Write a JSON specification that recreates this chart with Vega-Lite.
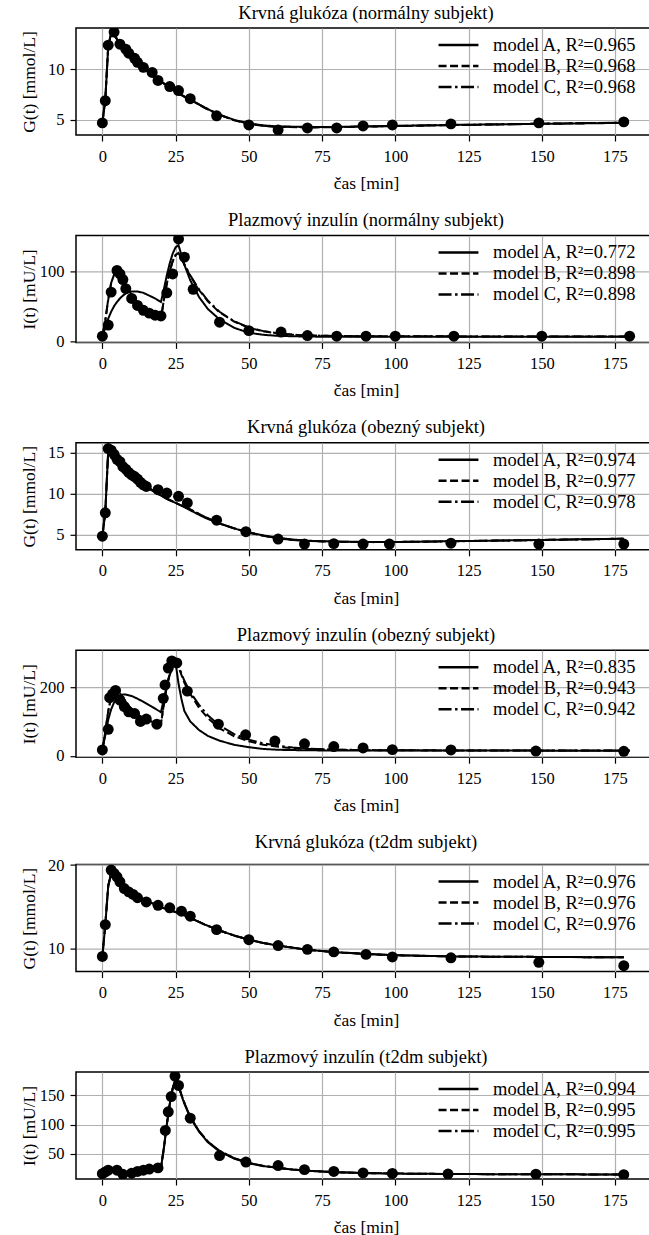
{
"$schema": "https://vega.github.io/schema/vega-lite/v6.json",
"background": "white",
"padding": {"left": 19, "top": 2, "right": 0, "bottom": 0},
"config": {
 "font": "Liberation Serif, DejaVu Serif, serif",
 "view": {"stroke": "black", "strokeWidth": 1.5},
 "axis": {"labelFont": "Liberation Serif, DejaVu Serif, serif", "labelFontSize": 16.5, "labelColor": "black", "titleFont": "Liberation Serif, DejaVu Serif, serif", "titleFontSize": 17.5, "titleFontWeight": "normal", "titleColor": "black", "tickColor": "black", "tickSize": 6, "tickWidth": 1.2, "domain": false, "gridColor": "#b0b0b0", "gridWidth": 1.2, "labelPadding": 6, "labelFlush": false},
 "axisX": {"titlePadding": 10, "labelPadding": 7},
 "axisY": {"minExtent": 27, "maxExtent": 27, "titlePadding": 11},
 "title": {"font": "Liberation Serif, DejaVu Serif, serif", "fontSize": 18.5, "fontWeight": "normal", "color": "black", "offset": 6},
 "legend": {"title": null, "orient": "none", "legendX": 371.5, "legendY": 6, "symbolType": "M-2.1,0L2.1,0", "symbolSize": 361, "symbolStrokeWidth": 2.5, "symbolStrokeColor": "black", "symbolFillColor": "transparent", "labelFont": "Liberation Serif, DejaVu Serif, serif", "labelFontSize": 18.5, "labelColor": "black", "rowPadding": 0, "labelOffset": 23.5, "padding": 0},
 "concat": {"spacing": 16.4}
},
"datasets": {
 "d1": [{"t":0,"v":4.7},{"t":1,"v":6.9},{"t":2,"v":12.4},{"t":4,"v":13.7},{"t":6,"v":12.5},{"t":8,"v":12.0},{"t":9,"v":11.6},{"t":11,"v":11.1},{"t":12,"v":10.7},{"t":14,"v":10.2},{"t":17,"v":9.7},{"t":19,"v":8.9},{"t":23,"v":8.3},{"t":26,"v":7.9},{"t":30,"v":7.1},{"t":39,"v":5.4},{"t":50,"v":4.5},{"t":60,"v":4.0},{"t":70,"v":4.2},{"t":80,"v":4.2},{"t":89,"v":4.4},{"t":99,"v":4.5},{"t":119,"v":4.6},{"t":149,"v":4.7},{"t":178,"v":4.8}],
 "m1": [
  {"m":"A","t":0,"v":4.7},{"m":"A","t":1,"v":7.0},{"m":"A","t":2,"v":12.2},{"m":"A","t":3,"v":13.6},{"m":"A","t":4,"v":13.5},{"m":"A","t":5,"v":13.0},{"m":"A","t":6,"v":12.6},{"m":"A","t":8,"v":12.0},{"m":"A","t":10,"v":11.4},{"m":"A","t":12,"v":10.8},{"m":"A","t":14,"v":10.2},{"m":"A","t":16,"v":9.7},{"m":"A","t":18,"v":9.2},{"m":"A","t":20,"v":8.8},{"m":"A","t":22,"v":8.4},{"m":"A","t":24,"v":8.0},{"m":"A","t":26,"v":7.7},{"m":"A","t":28,"v":7.3},{"m":"A","t":30,"v":7.0},{"m":"A","t":35,"v":6.2},{"m":"A","t":40,"v":5.5},{"m":"A","t":45,"v":5.0},{"m":"A","t":50,"v":4.65},{"m":"A","t":55,"v":4.45},{"m":"A","t":60,"v":4.35},{"m":"A","t":70,"v":4.3},{"m":"A","t":80,"v":4.3},{"m":"A","t":90,"v":4.35},{"m":"A","t":100,"v":4.4},{"m":"A","t":120,"v":4.5},{"m":"A","t":150,"v":4.6},{"m":"A","t":178,"v":4.7},
  {"m":"B","t":0,"v":4.7},{"m":"B","t":1,"v":7.0},{"m":"B","t":2,"v":12.3},{"m":"B","t":3,"v":13.6},{"m":"B","t":4,"v":13.4},{"m":"B","t":5,"v":13.0},{"m":"B","t":6,"v":12.6},{"m":"B","t":8,"v":12.0},{"m":"B","t":10,"v":11.4},{"m":"B","t":12,"v":10.8},{"m":"B","t":14,"v":10.2},{"m":"B","t":16,"v":9.7},{"m":"B","t":18,"v":9.2},{"m":"B","t":20,"v":8.8},{"m":"B","t":22,"v":8.4},{"m":"B","t":24,"v":8.0},{"m":"B","t":26,"v":7.6},{"m":"B","t":28,"v":7.3},{"m":"B","t":30,"v":7.0},{"m":"B","t":35,"v":6.2},{"m":"B","t":40,"v":5.5},{"m":"B","t":45,"v":4.95},{"m":"B","t":50,"v":4.6},{"m":"B","t":55,"v":4.4},{"m":"B","t":60,"v":4.3},{"m":"B","t":70,"v":4.25},{"m":"B","t":80,"v":4.28},{"m":"B","t":90,"v":4.33},{"m":"B","t":100,"v":4.38},{"m":"B","t":120,"v":4.48},{"m":"B","t":150,"v":4.62},{"m":"B","t":178,"v":4.72},
  {"m":"C","t":0,"v":4.7},{"m":"C","t":1,"v":7.0},{"m":"C","t":2,"v":12.3},{"m":"C","t":3,"v":13.6},{"m":"C","t":4,"v":13.4},{"m":"C","t":5,"v":13.0},{"m":"C","t":6,"v":12.6},{"m":"C","t":8,"v":12.0},{"m":"C","t":10,"v":11.4},{"m":"C","t":12,"v":10.8},{"m":"C","t":14,"v":10.2},{"m":"C","t":16,"v":9.7},{"m":"C","t":18,"v":9.2},{"m":"C","t":20,"v":8.8},{"m":"C","t":22,"v":8.4},{"m":"C","t":24,"v":8.0},{"m":"C","t":26,"v":7.6},{"m":"C","t":28,"v":7.3},{"m":"C","t":30,"v":7.0},{"m":"C","t":35,"v":6.2},{"m":"C","t":40,"v":5.5},{"m":"C","t":45,"v":4.97},{"m":"C","t":50,"v":4.62},{"m":"C","t":55,"v":4.42},{"m":"C","t":60,"v":4.32},{"m":"C","t":70,"v":4.27},{"m":"C","t":80,"v":4.29},{"m":"C","t":90,"v":4.34},{"m":"C","t":100,"v":4.4},{"m":"C","t":120,"v":4.49},{"m":"C","t":150,"v":4.62},{"m":"C","t":178,"v":4.72}
 ],
 "d2": [{"t":0,"v":8},{"t":2,"v":24},{"t":3,"v":71},{"t":5,"v":102},{"t":6,"v":97},{"t":7,"v":89},{"t":8,"v":76},{"t":10,"v":62},{"t":12,"v":52},{"t":14,"v":45},{"t":16,"v":41},{"t":18,"v":38},{"t":20,"v":37},{"t":22,"v":70},{"t":24,"v":97},{"t":26,"v":147},{"t":28,"v":121},{"t":31,"v":75},{"t":40,"v":28},{"t":50,"v":16},{"t":61,"v":14},{"t":70,"v":9},{"t":80,"v":8},{"t":90,"v":8},{"t":100,"v":8},{"t":120,"v":8},{"t":150,"v":8},{"t":180,"v":8}],
 "m2": [
  {"m":"A","t":0,"v":8},{"m":"A","t":1,"v":20},{"m":"A","t":2,"v":33},{"m":"A","t":3,"v":43},{"m":"A","t":4,"v":51},{"m":"A","t":5,"v":57},{"m":"A","t":6,"v":62},{"m":"A","t":7,"v":66},{"m":"A","t":8,"v":69},{"m":"A","t":9,"v":71},{"m":"A","t":10,"v":72},{"m":"A","t":12,"v":72},{"m":"A","t":14,"v":70},{"m":"A","t":16,"v":66},{"m":"A","t":18,"v":62},{"m":"A","t":20,"v":57},{"m":"A","t":21,"v":75},{"m":"A","t":22,"v":95},{"m":"A","t":23,"v":112},{"m":"A","t":24,"v":126},{"m":"A","t":25,"v":135},{"m":"A","t":26,"v":138},{"m":"A","t":27,"v":124},{"m":"A","t":28,"v":110},{"m":"A","t":30,"v":88},{"m":"A","t":33,"v":64},{"m":"A","t":36,"v":47},{"m":"A","t":40,"v":32},{"m":"A","t":45,"v":20},{"m":"A","t":50,"v":13},{"m":"A","t":55,"v":10},{"m":"A","t":60,"v":8.5},{"m":"A","t":70,"v":7.5},{"m":"A","t":80,"v":7.3},{"m":"A","t":100,"v":7.2},{"m":"A","t":120,"v":7.2},{"m":"A","t":150,"v":7.2},{"m":"A","t":180,"v":7.2},
  {"m":"B","t":0,"v":8},{"m":"B","t":1,"v":30},{"m":"B","t":2,"v":60},{"m":"B","t":3,"v":84},{"m":"B","t":4,"v":96},{"m":"B","t":5,"v":99},{"m":"B","t":6,"v":96},{"m":"B","t":7,"v":89},{"m":"B","t":8,"v":81},{"m":"B","t":10,"v":67},{"m":"B","t":12,"v":56},{"m":"B","t":14,"v":48},{"m":"B","t":16,"v":42},{"m":"B","t":18,"v":37},{"m":"B","t":20,"v":33},{"m":"B","t":21,"v":60},{"m":"B","t":22,"v":83},{"m":"B","t":23,"v":101},{"m":"B","t":24,"v":115},{"m":"B","t":25,"v":124},{"m":"B","t":26,"v":127},{"m":"B","t":27,"v":119},{"m":"B","t":28,"v":110},{"m":"B","t":30,"v":94},{"m":"B","t":33,"v":74},{"m":"B","t":36,"v":58},{"m":"B","t":40,"v":42},{"m":"B","t":45,"v":29},{"m":"B","t":50,"v":20},{"m":"B","t":55,"v":15},{"m":"B","t":60,"v":12},{"m":"B","t":65,"v":10.2},{"m":"B","t":70,"v":9.2},{"m":"B","t":80,"v":8.3},{"m":"B","t":90,"v":8},{"m":"B","t":100,"v":7.9},{"m":"B","t":120,"v":7.8},{"m":"B","t":150,"v":7.8},{"m":"B","t":180,"v":7.8},
  {"m":"C","t":0,"v":8},{"m":"C","t":1,"v":31},{"m":"C","t":2,"v":61},{"m":"C","t":3,"v":84},{"m":"C","t":4,"v":96},{"m":"C","t":5,"v":99},{"m":"C","t":6,"v":96},{"m":"C","t":7,"v":89},{"m":"C","t":8,"v":81},{"m":"C","t":10,"v":67},{"m":"C","t":12,"v":56},{"m":"C","t":14,"v":48},{"m":"C","t":16,"v":42},{"m":"C","t":18,"v":37},{"m":"C","t":20,"v":33},{"m":"C","t":21,"v":60},{"m":"C","t":22,"v":83},{"m":"C","t":23,"v":101},{"m":"C","t":24,"v":115},{"m":"C","t":25,"v":124},{"m":"C","t":26,"v":127},{"m":"C","t":27,"v":120},{"m":"C","t":28,"v":111},{"m":"C","t":30,"v":95},{"m":"C","t":33,"v":75},{"m":"C","t":36,"v":59},{"m":"C","t":40,"v":43},{"m":"C","t":45,"v":29.5},{"m":"C","t":50,"v":20.5},{"m":"C","t":55,"v":15.3},{"m":"C","t":60,"v":12.2},{"m":"C","t":65,"v":10.3},{"m":"C","t":70,"v":9.3},{"m":"C","t":80,"v":8.3},{"m":"C","t":90,"v":8},{"m":"C","t":100,"v":7.9},{"m":"C","t":120,"v":7.8},{"m":"C","t":150,"v":7.8},{"m":"C","t":180,"v":7.8}
 ],
 "d3": [{"t":0,"v":4.85},{"t":1,"v":7.7},{"t":2,"v":15.5},{"t":3,"v":15.3},{"t":4,"v":14.8},{"t":5,"v":14.2},{"t":6,"v":13.9},{"t":7,"v":13.3},{"t":8,"v":13.0},{"t":9,"v":12.6},{"t":10,"v":12.3},{"t":11,"v":12.1},{"t":12,"v":11.8},{"t":13,"v":11.4},{"t":14,"v":11.1},{"t":15,"v":10.9},{"t":19,"v":10.5},{"t":22,"v":10.1},{"t":26,"v":9.7},{"t":29,"v":8.9},{"t":39,"v":6.8},{"t":49,"v":5.4},{"t":60,"v":4.5},{"t":69,"v":3.9},{"t":79,"v":3.95},{"t":89,"v":3.9},{"t":98,"v":3.9},{"t":119,"v":4.0},{"t":149,"v":3.9},{"t":178,"v":3.9}],
 "m3": [
  {"m":"A","t":0,"v":4.85},{"m":"A","t":1,"v":7.8},{"m":"A","t":2,"v":15.2},{"m":"A","t":3,"v":15.0},{"m":"A","t":4,"v":14.6},{"m":"A","t":6,"v":13.8},{"m":"A","t":8,"v":13.0},{"m":"A","t":10,"v":12.3},{"m":"A","t":12,"v":11.7},{"m":"A","t":14,"v":11.1},{"m":"A","t":16,"v":10.6},{"m":"A","t":18,"v":10.2},{"m":"A","t":20,"v":9.8},{"m":"A","t":22,"v":9.4},{"m":"A","t":25,"v":8.9},{"m":"A","t":28,"v":8.4},{"m":"A","t":30,"v":8.0},{"m":"A","t":35,"v":7.1},{"m":"A","t":40,"v":6.4},{"m":"A","t":45,"v":5.8},{"m":"A","t":50,"v":5.3},{"m":"A","t":55,"v":4.95},{"m":"A","t":60,"v":4.65},{"m":"A","t":65,"v":4.45},{"m":"A","t":70,"v":4.3},{"m":"A","t":80,"v":4.2},{"m":"A","t":90,"v":4.15},{"m":"A","t":100,"v":4.15},{"m":"A","t":120,"v":4.25},{"m":"A","t":150,"v":4.4},{"m":"A","t":178,"v":4.55},
  {"m":"B","t":0,"v":4.85},{"m":"B","t":1,"v":7.8},{"m":"B","t":2,"v":15.3},{"m":"B","t":3,"v":15.1},{"m":"B","t":4,"v":14.6},{"m":"B","t":6,"v":13.8},{"m":"B","t":8,"v":13.0},{"m":"B","t":10,"v":12.3},{"m":"B","t":12,"v":11.7},{"m":"B","t":14,"v":11.2},{"m":"B","t":16,"v":10.7},{"m":"B","t":18,"v":10.2},{"m":"B","t":20,"v":9.8},{"m":"B","t":22,"v":9.4},{"m":"B","t":25,"v":8.9},{"m":"B","t":28,"v":8.4},{"m":"B","t":30,"v":8.1},{"m":"B","t":35,"v":7.2},{"m":"B","t":40,"v":6.4},{"m":"B","t":45,"v":5.8},{"m":"B","t":50,"v":5.3},{"m":"B","t":55,"v":4.9},{"m":"B","t":60,"v":4.6},{"m":"B","t":65,"v":4.4},{"m":"B","t":70,"v":4.28},{"m":"B","t":80,"v":4.18},{"m":"B","t":90,"v":4.14},{"m":"B","t":100,"v":4.15},{"m":"B","t":120,"v":4.24},{"m":"B","t":150,"v":4.4},{"m":"B","t":178,"v":4.55},
  {"m":"C","t":0,"v":4.85},{"m":"C","t":1,"v":7.8},{"m":"C","t":2,"v":15.3},{"m":"C","t":3,"v":15.1},{"m":"C","t":4,"v":14.6},{"m":"C","t":6,"v":13.8},{"m":"C","t":8,"v":13.0},{"m":"C","t":10,"v":12.3},{"m":"C","t":12,"v":11.7},{"m":"C","t":14,"v":11.2},{"m":"C","t":16,"v":10.7},{"m":"C","t":18,"v":10.2},{"m":"C","t":20,"v":9.8},{"m":"C","t":22,"v":9.4},{"m":"C","t":25,"v":8.9},{"m":"C","t":28,"v":8.4},{"m":"C","t":30,"v":8.1},{"m":"C","t":35,"v":7.2},{"m":"C","t":40,"v":6.4},{"m":"C","t":45,"v":5.8},{"m":"C","t":50,"v":5.3},{"m":"C","t":55,"v":4.9},{"m":"C","t":60,"v":4.6},{"m":"C","t":65,"v":4.4},{"m":"C","t":70,"v":4.27},{"m":"C","t":80,"v":4.17},{"m":"C","t":90,"v":4.13},{"m":"C","t":100,"v":4.14},{"m":"C","t":120,"v":4.23},{"m":"C","t":150,"v":4.39},{"m":"C","t":178,"v":4.54}
 ],
 "d4": [{"t":0,"v":17},{"t":2,"v":77},{"t":2.5,"v":169},{"t":3.5,"v":180},{"t":4.5,"v":190},{"t":6,"v":162},{"t":7.5,"v":143},{"t":9,"v":128},{"t":11,"v":123},{"t":13,"v":100},{"t":15,"v":107},{"t":18.6,"v":92},{"t":20.8,"v":167},{"t":21.4,"v":206},{"t":22.5,"v":255},{"t":23.7,"v":276},{"t":25.4,"v":270},{"t":29,"v":188},{"t":39.6,"v":92},{"t":48.9,"v":61},{"t":58.9,"v":43},{"t":69,"v":35},{"t":79,"v":27},{"t":89,"v":23},{"t":99,"v":18},{"t":119,"v":17},{"t":148,"v":14},{"t":178,"v":13}],
 "m4": [
  {"m":"A","t":0,"v":17},{"m":"A","t":1,"v":60},{"m":"A","t":2,"v":105},{"m":"A","t":3,"v":135},{"m":"A","t":4,"v":155},{"m":"A","t":5,"v":168},{"m":"A","t":6,"v":175},{"m":"A","t":7,"v":178},{"m":"A","t":8,"v":178},{"m":"A","t":10,"v":174},{"m":"A","t":12,"v":166},{"m":"A","t":14,"v":157},{"m":"A","t":16,"v":147},{"m":"A","t":18,"v":137},{"m":"A","t":20,"v":127},{"m":"A","t":21,"v":165},{"m":"A","t":22,"v":205},{"m":"A","t":23,"v":235},{"m":"A","t":24,"v":258},{"m":"A","t":25,"v":270},{"m":"A","t":26,"v":210},{"m":"A","t":27,"v":165},{"m":"A","t":28,"v":130},{"m":"A","t":30,"v":100},{"m":"A","t":33,"v":75},{"m":"A","t":36,"v":58},{"m":"A","t":40,"v":44},{"m":"A","t":45,"v":32},{"m":"A","t":50,"v":25},{"m":"A","t":55,"v":20},{"m":"A","t":60,"v":17.5},{"m":"A","t":70,"v":16},{"m":"A","t":80,"v":15.5},{"m":"A","t":100,"v":15.3},{"m":"A","t":120,"v":15.2},{"m":"A","t":150,"v":15.1},{"m":"A","t":180,"v":15},
  {"m":"B","t":0,"v":17},{"m":"B","t":1,"v":70},{"m":"B","t":2,"v":130},{"m":"B","t":3,"v":170},{"m":"B","t":4,"v":188},{"m":"B","t":5,"v":190},{"m":"B","t":6,"v":182},{"m":"B","t":7,"v":170},{"m":"B","t":8,"v":157},{"m":"B","t":10,"v":135},{"m":"B","t":12,"v":120},{"m":"B","t":14,"v":110},{"m":"B","t":16,"v":102},{"m":"B","t":18,"v":96},{"m":"B","t":20,"v":92},{"m":"B","t":21,"v":150},{"m":"B","t":22,"v":200},{"m":"B","t":23,"v":240},{"m":"B","t":24,"v":265},{"m":"B","t":25,"v":275},{"m":"B","t":26,"v":258},{"m":"B","t":27,"v":235},{"m":"B","t":28,"v":212},{"m":"B","t":30,"v":180},{"m":"B","t":33,"v":140},{"m":"B","t":36,"v":110},{"m":"B","t":40,"v":80},{"m":"B","t":45,"v":57},{"m":"B","t":50,"v":42},{"m":"B","t":55,"v":32},{"m":"B","t":60,"v":26},{"m":"B","t":65,"v":22},{"m":"B","t":70,"v":20},{"m":"B","t":80,"v":17.5},{"m":"B","t":90,"v":16.5},{"m":"B","t":100,"v":16},{"m":"B","t":120,"v":15.6},{"m":"B","t":150,"v":15.3},{"m":"B","t":180,"v":15.2},
  {"m":"C","t":0,"v":17},{"m":"C","t":1,"v":70},{"m":"C","t":2,"v":130},{"m":"C","t":3,"v":170},{"m":"C","t":4,"v":188},{"m":"C","t":5,"v":190},{"m":"C","t":6,"v":182},{"m":"C","t":7,"v":170},{"m":"C","t":8,"v":157},{"m":"C","t":10,"v":135},{"m":"C","t":12,"v":120},{"m":"C","t":14,"v":110},{"m":"C","t":16,"v":102},{"m":"C","t":18,"v":96},{"m":"C","t":20,"v":92},{"m":"C","t":21,"v":150},{"m":"C","t":22,"v":200},{"m":"C","t":23,"v":240},{"m":"C","t":24,"v":265},{"m":"C","t":25,"v":275},{"m":"C","t":26,"v":260},{"m":"C","t":27,"v":240},{"m":"C","t":28,"v":218},{"m":"C","t":30,"v":185},{"m":"C","t":33,"v":148},{"m":"C","t":36,"v":118},{"m":"C","t":40,"v":88},{"m":"C","t":45,"v":63},{"m":"C","t":50,"v":47},{"m":"C","t":55,"v":36},{"m":"C","t":60,"v":29},{"m":"C","t":65,"v":24},{"m":"C","t":70,"v":21},{"m":"C","t":80,"v":18},{"m":"C","t":90,"v":16.8},{"m":"C","t":100,"v":16.2},{"m":"C","t":120,"v":15.7},{"m":"C","t":150,"v":15.4},{"m":"C","t":180,"v":15.3}
 ],
 "d5": [{"t":0,"v":9.1},{"t":1,"v":12.9},{"t":3,"v":19.4},{"t":4,"v":19.0},{"t":5,"v":18.6},{"t":6,"v":18.0},{"t":7.5,"v":17.2},{"t":9,"v":16.8},{"t":10.5,"v":16.5},{"t":12,"v":16.1},{"t":15,"v":15.6},{"t":19,"v":15.2},{"t":23,"v":14.9},{"t":27,"v":14.5},{"t":30,"v":13.9},{"t":39,"v":12.3},{"t":50,"v":11.1},{"t":60,"v":10.4},{"t":70,"v":9.95},{"t":79,"v":9.65},{"t":90,"v":9.35},{"t":99,"v":9.05},{"t":119,"v":8.95},{"t":149,"v":8.4},{"t":178,"v":8.0}],
 "m5": [
  {"m":"A","t":0,"v":9.1},{"m":"A","t":1,"v":12.9},{"m":"A","t":2,"v":17.5},{"m":"A","t":3,"v":19.0},{"m":"A","t":4,"v":18.8},{"m":"A","t":5,"v":18.3},{"m":"A","t":6,"v":17.9},{"m":"A","t":8,"v":17.2},{"m":"A","t":10,"v":16.7},{"m":"A","t":12,"v":16.3},{"m":"A","t":14,"v":15.9},{"m":"A","t":16,"v":15.6},{"m":"A","t":18,"v":15.3},{"m":"A","t":20,"v":15.0},{"m":"A","t":22,"v":14.7},{"m":"A","t":25,"v":14.4},{"m":"A","t":28,"v":14.0},{"m":"A","t":30,"v":13.7},{"m":"A","t":35,"v":12.9},{"m":"A","t":40,"v":12.2},{"m":"A","t":45,"v":11.6},{"m":"A","t":50,"v":11.1},{"m":"A","t":55,"v":10.7},{"m":"A","t":60,"v":10.4},{"m":"A","t":70,"v":9.9},{"m":"A","t":80,"v":9.6},{"m":"A","t":90,"v":9.4},{"m":"A","t":100,"v":9.25},{"m":"A","t":120,"v":9.1},{"m":"A","t":150,"v":9.05},{"m":"A","t":178,"v":9.0},
  {"m":"B","t":0,"v":9.1},{"m":"B","t":1,"v":12.9},{"m":"B","t":2,"v":17.5},{"m":"B","t":3,"v":19.0},{"m":"B","t":4,"v":18.8},{"m":"B","t":5,"v":18.3},{"m":"B","t":6,"v":17.9},{"m":"B","t":8,"v":17.2},{"m":"B","t":10,"v":16.7},{"m":"B","t":12,"v":16.3},{"m":"B","t":14,"v":15.9},{"m":"B","t":16,"v":15.6},{"m":"B","t":18,"v":15.3},{"m":"B","t":20,"v":15.0},{"m":"B","t":22,"v":14.7},{"m":"B","t":25,"v":14.4},{"m":"B","t":28,"v":14.0},{"m":"B","t":30,"v":13.7},{"m":"B","t":35,"v":12.9},{"m":"B","t":40,"v":12.2},{"m":"B","t":45,"v":11.6},{"m":"B","t":50,"v":11.1},{"m":"B","t":55,"v":10.7},{"m":"B","t":60,"v":10.4},{"m":"B","t":70,"v":9.9},{"m":"B","t":80,"v":9.6},{"m":"B","t":90,"v":9.4},{"m":"B","t":100,"v":9.25},{"m":"B","t":120,"v":9.1},{"m":"B","t":150,"v":9.05},{"m":"B","t":178,"v":9.0},
  {"m":"C","t":0,"v":9.1},{"m":"C","t":1,"v":12.9},{"m":"C","t":2,"v":17.5},{"m":"C","t":3,"v":19.0},{"m":"C","t":4,"v":18.8},{"m":"C","t":5,"v":18.3},{"m":"C","t":6,"v":17.9},{"m":"C","t":8,"v":17.2},{"m":"C","t":10,"v":16.7},{"m":"C","t":12,"v":16.3},{"m":"C","t":14,"v":15.9},{"m":"C","t":16,"v":15.6},{"m":"C","t":18,"v":15.3},{"m":"C","t":20,"v":15.0},{"m":"C","t":22,"v":14.7},{"m":"C","t":25,"v":14.4},{"m":"C","t":28,"v":14.0},{"m":"C","t":30,"v":13.7},{"m":"C","t":35,"v":12.9},{"m":"C","t":40,"v":12.2},{"m":"C","t":45,"v":11.6},{"m":"C","t":50,"v":11.1},{"m":"C","t":55,"v":10.7},{"m":"C","t":60,"v":10.4},{"m":"C","t":70,"v":9.9},{"m":"C","t":80,"v":9.6},{"m":"C","t":90,"v":9.4},{"m":"C","t":100,"v":9.25},{"m":"C","t":120,"v":9.1},{"m":"C","t":150,"v":9.05},{"m":"C","t":178,"v":9.0}
 ],
 "d6": [{"t":0,"v":16},{"t":1,"v":19},{"t":2,"v":22},{"t":5,"v":22},{"t":7,"v":15},{"t":10,"v":17},{"t":12,"v":20},{"t":14,"v":22},{"t":16,"v":24},{"t":19,"v":26},{"t":21.5,"v":90},{"t":22.5,"v":122},{"t":23.5,"v":148},{"t":24.8,"v":183},{"t":26,"v":167},{"t":30,"v":111},{"t":40,"v":47},{"t":49,"v":36},{"t":60,"v":30},{"t":69,"v":23},{"t":79,"v":20},{"t":89,"v":17.5},{"t":99,"v":16.5},{"t":118,"v":15.5},{"t":148,"v":15.3},{"t":178,"v":14.5}],
 "m6": [
  {"m":"A","t":0,"v":16},{"m":"A","t":2,"v":19},{"m":"A","t":4,"v":20},{"m":"A","t":6,"v":18},{"m":"A","t":8,"v":16},{"m":"A","t":10,"v":17},{"m":"A","t":12,"v":20},{"m":"A","t":14,"v":22},{"m":"A","t":16,"v":23},{"m":"A","t":18,"v":24},{"m":"A","t":20,"v":26},{"m":"A","t":21,"v":60},{"m":"A","t":22,"v":100},{"m":"A","t":23,"v":135},{"m":"A","t":24,"v":162},{"m":"A","t":25,"v":178},{"m":"A","t":26,"v":166},{"m":"A","t":27,"v":150},{"m":"A","t":28,"v":136},{"m":"A","t":30,"v":112},{"m":"A","t":33,"v":88},{"m":"A","t":36,"v":70},{"m":"A","t":40,"v":54},{"m":"A","t":45,"v":42},{"m":"A","t":50,"v":34},{"m":"A","t":55,"v":29},{"m":"A","t":60,"v":26},{"m":"A","t":65,"v":23},{"m":"A","t":70,"v":21},{"m":"A","t":80,"v":18.5},{"m":"A","t":90,"v":17},{"m":"A","t":100,"v":16.3},{"m":"A","t":120,"v":15.5},{"m":"A","t":150,"v":15},{"m":"A","t":178,"v":14.8},
  {"m":"B","t":0,"v":16},{"m":"B","t":2,"v":19},{"m":"B","t":4,"v":20},{"m":"B","t":6,"v":18},{"m":"B","t":8,"v":16},{"m":"B","t":10,"v":17},{"m":"B","t":12,"v":20},{"m":"B","t":14,"v":22},{"m":"B","t":16,"v":23},{"m":"B","t":18,"v":24},{"m":"B","t":20,"v":26},{"m":"B","t":21,"v":60},{"m":"B","t":22,"v":100},{"m":"B","t":23,"v":135},{"m":"B","t":24,"v":162},{"m":"B","t":25,"v":178},{"m":"B","t":26,"v":167},{"m":"B","t":27,"v":151},{"m":"B","t":28,"v":137},{"m":"B","t":30,"v":113},{"m":"B","t":33,"v":89},{"m":"B","t":36,"v":71},{"m":"B","t":40,"v":55},{"m":"B","t":45,"v":42.5},{"m":"B","t":50,"v":34.5},{"m":"B","t":55,"v":29.3},{"m":"B","t":60,"v":26.2},{"m":"B","t":65,"v":23.2},{"m":"B","t":70,"v":21.2},{"m":"B","t":80,"v":18.6},{"m":"B","t":90,"v":17.1},{"m":"B","t":100,"v":16.3},{"m":"B","t":120,"v":15.5},{"m":"B","t":150,"v":15},{"m":"B","t":178,"v":14.8},
  {"m":"C","t":0,"v":16},{"m":"C","t":2,"v":19},{"m":"C","t":4,"v":20},{"m":"C","t":6,"v":18},{"m":"C","t":8,"v":16},{"m":"C","t":10,"v":17},{"m":"C","t":12,"v":20},{"m":"C","t":14,"v":22},{"m":"C","t":16,"v":23},{"m":"C","t":18,"v":24},{"m":"C","t":20,"v":26},{"m":"C","t":21,"v":60},{"m":"C","t":22,"v":100},{"m":"C","t":23,"v":135},{"m":"C","t":24,"v":162},{"m":"C","t":25,"v":178},{"m":"C","t":26,"v":167},{"m":"C","t":27,"v":151},{"m":"C","t":28,"v":137},{"m":"C","t":30,"v":113},{"m":"C","t":33,"v":89},{"m":"C","t":36,"v":71},{"m":"C","t":40,"v":55},{"m":"C","t":45,"v":42.5},{"m":"C","t":50,"v":34.5},{"m":"C","t":55,"v":29.3},{"m":"C","t":60,"v":26.2},{"m":"C","t":65,"v":23.2},{"m":"C","t":70,"v":21.2},{"m":"C","t":80,"v":18.6},{"m":"C","t":90,"v":17.1},{"m":"C","t":100,"v":16.3},{"m":"C","t":120,"v":15.5},{"m":"C","t":150,"v":15},{"m":"C","t":178,"v":14.8}
 ]
},
"resolve": {"scale": {"x": "independent", "y": "independent", "strokeDash": "independent"}, "legend": {"strokeDash": "independent"}},
"vconcat": [
 {"width": 580, "height": 107, "title": {"text": "Krvná glukóza (normálny subjekt)", "frame": "group"},
  "encoding": {"x": {"field": "t", "type": "quantitative", "scale": {"domain": [-9, 189], "nice": false, "zero": false}, "axis": {"title": "čas [min]", "values": [0,25,50,75,100,125,150,175]}},
   "y": {"field": "v", "type": "quantitative", "scale": {"domain": [3.5, 14.1], "nice": false, "zero": false}, "axis": {"title": "G(t) [mmol/L]", "values": [5, 10]}}},
  "layer": [
   {"data": {"name": "m1"}, "mark": {"type": "line", "clip": true, "color": "black", "strokeWidth": 2},
    "encoding": {"strokeDash": {"field": "m", "type": "nominal", "scale": {"domain": ["A","B","C"], "range": [[1,0],[8,3.5],[13,3.5,2.5,3.5]]},
     "legend": {"labelExpr": "datum.label == 'A' ? 'model A, R²=0.965' : datum.label == 'B' ? 'model B, R²=0.968' : 'model C, R²=0.968'"}}}},
   {"data": {"name": "d1"}, "mark": {"type": "circle", "clip": true, "color": "black", "opacity": 1, "size": 120}}
  ]},
 {"width": 580, "height": 107, "title": {"text": "Plazmový inzulín (normálny subjekt)", "frame": "group"},
  "encoding": {"x": {"field": "t", "type": "quantitative", "scale": {"domain": [-9, 189], "nice": false, "zero": false}, "axis": {"title": "čas [min]", "values": [0,25,50,75,100,125,150,175]}},
   "y": {"field": "v", "type": "quantitative", "scale": {"domain": [-0.8, 152], "nice": false, "zero": false}, "axis": {"title": "I(t) [mU/L]", "values": [0, 100]}}},
  "layer": [
   {"data": {"name": "m2"}, "mark": {"type": "line", "clip": true, "color": "black", "strokeWidth": 2},
    "encoding": {"strokeDash": {"field": "m", "type": "nominal", "scale": {"domain": ["A","B","C"], "range": [[1,0],[8,3.5],[13,3.5,2.5,3.5]]},
     "legend": {"labelExpr": "datum.label == 'A' ? 'model A, R²=0.772' : datum.label == 'B' ? 'model B, R²=0.898' : 'model C, R²=0.898'"}}}},
   {"data": {"name": "d2"}, "mark": {"type": "circle", "clip": true, "color": "black", "opacity": 1, "size": 120}}
  ]},
 {"width": 580, "height": 107, "title": {"text": "Krvná glukóza (obezný subjekt)", "frame": "group"},
  "encoding": {"x": {"field": "t", "type": "quantitative", "scale": {"domain": [-9, 189], "nice": false, "zero": false}, "axis": {"title": "čas [min]", "values": [0,25,50,75,100,125,150,175]}},
   "y": {"field": "v", "type": "quantitative", "scale": {"domain": [3.2, 16.2], "nice": false, "zero": false}, "axis": {"title": "G(t) [mmol/L]", "values": [5, 10, 15]}}},
  "layer": [
   {"data": {"name": "m3"}, "mark": {"type": "line", "clip": true, "color": "black", "strokeWidth": 2},
    "encoding": {"strokeDash": {"field": "m", "type": "nominal", "scale": {"domain": ["A","B","C"], "range": [[1,0],[8,3.5],[13,3.5,2.5,3.5]]},
     "legend": {"labelExpr": "datum.label == 'A' ? 'model A, R²=0.974' : datum.label == 'B' ? 'model B, R²=0.977' : 'model C, R²=0.978'"}}}},
   {"data": {"name": "d3"}, "mark": {"type": "circle", "clip": true, "color": "black", "opacity": 1, "size": 120}}
  ]},
 {"width": 580, "height": 107, "title": {"text": "Plazmový inzulín (obezný subjekt)", "frame": "group"},
  "encoding": {"x": {"field": "t", "type": "quantitative", "scale": {"domain": [-9, 189], "nice": false, "zero": false}, "axis": {"title": "čas [min]", "values": [0,25,50,75,100,125,150,175]}},
   "y": {"field": "v", "type": "quantitative", "scale": {"domain": [-4, 307], "nice": false, "zero": false}, "axis": {"title": "I(t) [mU/L]", "values": [0, 200]}}},
  "layer": [
   {"data": {"name": "m4"}, "mark": {"type": "line", "clip": true, "color": "black", "strokeWidth": 2},
    "encoding": {"strokeDash": {"field": "m", "type": "nominal", "scale": {"domain": ["A","B","C"], "range": [[1,0],[8,3.5],[13,3.5,2.5,3.5]]},
     "legend": {"labelExpr": "datum.label == 'A' ? 'model A, R²=0.835' : datum.label == 'B' ? 'model B, R²=0.943' : 'model C, R²=0.942'"}}}},
   {"data": {"name": "d4"}, "mark": {"type": "circle", "clip": true, "color": "black", "opacity": 1, "size": 120}}
  ]},
 {"width": 580, "height": 107, "title": {"text": "Krvná glukóza (t2dm subjekt)", "frame": "group"},
  "encoding": {"x": {"field": "t", "type": "quantitative", "scale": {"domain": [-9, 189], "nice": false, "zero": false}, "axis": {"title": "čas [min]", "values": [0,25,50,75,100,125,150,175]}},
   "y": {"field": "v", "type": "quantitative", "scale": {"domain": [7.3, 20.05], "nice": false, "zero": false}, "axis": {"title": "G(t) [mmol/L]", "values": [10, 20]}}},
  "layer": [
   {"data": {"name": "m5"}, "mark": {"type": "line", "clip": true, "color": "black", "strokeWidth": 2},
    "encoding": {"strokeDash": {"field": "m", "type": "nominal", "scale": {"domain": ["A","B","C"], "range": [[1,0],[8,3.5],[13,3.5,2.5,3.5]]},
     "legend": {"labelExpr": "datum.label == 'A' ? 'model A, R²=0.976' : datum.label == 'B' ? 'model B, R²=0.976' : 'model C, R²=0.976'"}}}},
   {"data": {"name": "d5"}, "mark": {"type": "circle", "clip": true, "color": "black", "opacity": 1, "size": 120}}
  ]},
 {"width": 580, "height": 107, "title": {"text": "Plazmový inzulín (t2dm subjekt)", "frame": "group"},
  "encoding": {"x": {"field": "t", "type": "quantitative", "scale": {"domain": [-9, 189], "nice": false, "zero": false}, "axis": {"title": "čas [min]", "values": [0,25,50,75,100,125,150,175]}},
   "y": {"field": "v", "type": "quantitative", "scale": {"domain": [7, 190], "nice": false, "zero": false}, "axis": {"title": "I(t) [mU/L]", "values": [50, 100, 150]}}},
  "layer": [
   {"data": {"name": "m6"}, "mark": {"type": "line", "clip": true, "color": "black", "strokeWidth": 2},
    "encoding": {"strokeDash": {"field": "m", "type": "nominal", "scale": {"domain": ["A","B","C"], "range": [[1,0],[8,3.5],[13,3.5,2.5,3.5]]},
     "legend": {"labelExpr": "datum.label == 'A' ? 'model A, R²=0.994' : datum.label == 'B' ? 'model B, R²=0.995' : 'model C, R²=0.995'"}}}},
   {"data": {"name": "d6"}, "mark": {"type": "circle", "clip": true, "color": "black", "opacity": 1, "size": 120}}
  ]}
]
}
